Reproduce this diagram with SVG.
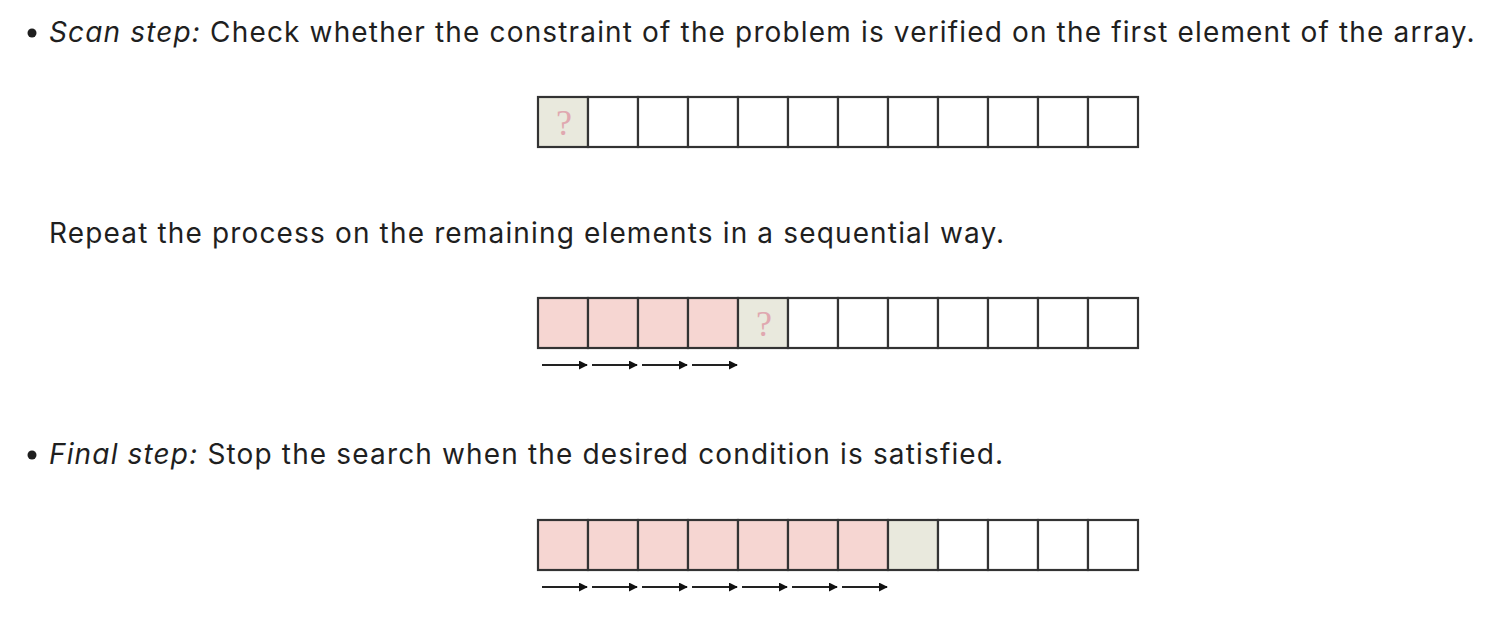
<svg xmlns="http://www.w3.org/2000/svg" width="1498" height="624" viewBox="0 0 1498 624">
<style>
.t{font-family:Inter,"Noto Sans",sans-serif;font-size:28px;fill:#1f1f1f;letter-spacing:1.15px}
.i{font-style:italic}
.c{stroke:#333333;stroke-width:2.2}
.w{fill:#ffffff}
.p{fill:#f6d6d2}
.q{fill:#e9e9dd}
.qm{font-family:"Liberation Serif",serif;font-size:36px;fill:#e0a8b0;text-anchor:middle}
.a{stroke:#222;stroke-width:1.8;fill:none}
</style>
<defs>
<marker id="ah" viewBox="0 0 10 10" refX="9" refY="5" markerWidth="5" markerHeight="5" orient="auto"><path d="M0,0 L10,5 L0,10 z" fill="#111"/></marker>
</defs>
<rect width="1498" height="624" fill="#fff"/>
<g id="text1">
<circle cx="32" cy="33" r="4.5" fill="#1f1f1f"/>
<text class="t" x="49" y="42"><tspan class="i">Scan step:</tspan> Check whether the constraint of the problem is verified on the first element of the array.</text>
</g>
<g id="array1">
<rect class="c q" x="538" y="97" width="50" height="50"/>
<rect class="c w" x="588" y="97" width="50" height="50"/>
<rect class="c w" x="638" y="97" width="50" height="50"/>
<rect class="c w" x="688" y="97" width="50" height="50"/>
<rect class="c w" x="738" y="97" width="50" height="50"/>
<rect class="c w" x="788" y="97" width="50" height="50"/>
<rect class="c w" x="838" y="97" width="50" height="50"/>
<rect class="c w" x="888" y="97" width="50" height="50"/>
<rect class="c w" x="938" y="97" width="50" height="50"/>
<rect class="c w" x="988" y="97" width="50" height="50"/>
<rect class="c w" x="1038" y="97" width="50" height="50"/>
<rect class="c w" x="1088" y="97" width="50" height="50"/>
<text class="qm" x="564" y="135">?</text>
</g>
<g id="text2">
<text class="t" x="49" y="243">Repeat the process on the remaining elements in a sequential way.</text>
</g>
<g id="array2">
<rect class="c p" x="538" y="298" width="50" height="50"/>
<rect class="c p" x="588" y="298" width="50" height="50"/>
<rect class="c p" x="638" y="298" width="50" height="50"/>
<rect class="c p" x="688" y="298" width="50" height="50"/>
<rect class="c q" x="738" y="298" width="50" height="50"/>
<rect class="c w" x="788" y="298" width="50" height="50"/>
<rect class="c w" x="838" y="298" width="50" height="50"/>
<rect class="c w" x="888" y="298" width="50" height="50"/>
<rect class="c w" x="938" y="298" width="50" height="50"/>
<rect class="c w" x="988" y="298" width="50" height="50"/>
<rect class="c w" x="1038" y="298" width="50" height="50"/>
<rect class="c w" x="1088" y="298" width="50" height="50"/>
<text class="qm" x="764" y="336">?</text>
</g>
<g id="text3">
<circle cx="32" cy="455" r="4.5" fill="#1f1f1f"/>
<text class="t" x="49" y="464"><tspan class="i">Final step:</tspan> Stop the search when the desired condition is satisfied.</text>
</g>
<g id="array3">
<rect class="c p" x="538" y="520" width="50" height="50"/>
<rect class="c p" x="588" y="520" width="50" height="50"/>
<rect class="c p" x="638" y="520" width="50" height="50"/>
<rect class="c p" x="688" y="520" width="50" height="50"/>
<rect class="c p" x="738" y="520" width="50" height="50"/>
<rect class="c p" x="788" y="520" width="50" height="50"/>
<rect class="c p" x="838" y="520" width="50" height="50"/>
<rect class="c q" x="888" y="520" width="50" height="50"/>
<rect class="c w" x="938" y="520" width="50" height="50"/>
<rect class="c w" x="988" y="520" width="50" height="50"/>
<rect class="c w" x="1038" y="520" width="50" height="50"/>
<rect class="c w" x="1088" y="520" width="50" height="50"/>
</g>
<g id="connectors">
<line class="a" x1="542" y1="365" x2="587" y2="365" marker-end="url(#ah)"/>
<line class="a" x1="592" y1="365" x2="637" y2="365" marker-end="url(#ah)"/>
<line class="a" x1="642" y1="365" x2="687" y2="365" marker-end="url(#ah)"/>
<line class="a" x1="692" y1="365" x2="737" y2="365" marker-end="url(#ah)"/>
<line class="a" x1="542" y1="587" x2="587" y2="587" marker-end="url(#ah)"/>
<line class="a" x1="592" y1="587" x2="637" y2="587" marker-end="url(#ah)"/>
<line class="a" x1="642" y1="587" x2="687" y2="587" marker-end="url(#ah)"/>
<line class="a" x1="692" y1="587" x2="737" y2="587" marker-end="url(#ah)"/>
<line class="a" x1="742" y1="587" x2="787" y2="587" marker-end="url(#ah)"/>
<line class="a" x1="792" y1="587" x2="837" y2="587" marker-end="url(#ah)"/>
<line class="a" x1="842" y1="587" x2="887" y2="587" marker-end="url(#ah)"/>
</g>
</svg>
